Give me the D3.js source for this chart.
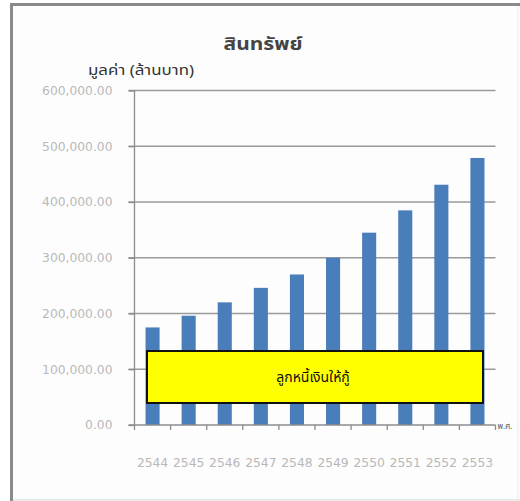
<!DOCTYPE html>
<html>
<head>
<meta charset="utf-8">
<script src="https://cdn.jsdelivr.net/npm/d3@7"></script>
<style>
  html, body { margin: 0; padding: 0; background: #ffffff; }
  svg { display: block; }
</style>
</head>
<body>
<svg id="chart" width="520" height="501"></svg>
<script>
// Assets (million baht) by Buddhist-era year
const years = ["2544", "2545", "2546", "2547", "2548", "2549", "2550", "2551", "2552", "2553"];
const assets = [175000, 196000, 220000, 246000, 270000, 300000, 345000, 385000, 431000, 479000];
const yTicks = [0, 100000, 200000, 300000, 400000, 500000, 600000];

const chartTitle = "สินทรัพย์";
const yTitle = "มูลค่า (ล้านบาท)";
const xUnit = "พ.ศ.";
const boxLabel = "ลูกหนี้เงินให้กู้";

const svg = d3.select("#chart");
const W = 520, H = 501;
const plotLeft = 134.5, plotRight = 495.5, plotTop = 90.5, plotBottom = 425;
const fontLatin = "'DejaVu Sans', Verdana, sans-serif";
const fontThai = "Tahoma, 'Noto Sans Thai', 'Noto Sans', 'DejaVu Sans', sans-serif";

// Frame
svg.append("rect").attr("x", 0).attr("y", 0).attr("width", W).attr("height", H).attr("fill", "#ffffff");
svg.append("rect").attr("x", 13).attr("y", 5).attr("width", W - 14).attr("height", H - 6)
  .attr("fill", "#fdfdfd").attr("stroke", "none");
svg.append("line").attr("x1", 11).attr("x2", W).attr("y1", 4.5).attr("y2", 4.5)
  .attr("stroke", "#8a8a8a").attr("stroke-width", 3);
svg.append("line").attr("x1", 11.5).attr("x2", 11.5).attr("y1", 3).attr("y2", H)
  .attr("stroke", "#8a8a8a").attr("stroke-width", 3);
svg.append("line").attr("x1", 13).attr("x2", W).attr("y1", H - 1).attr("y2", H - 1)
  .attr("stroke", "#e2e2e2").attr("stroke-width", 1.5);
svg.append("line").attr("x1", W - 2).attr("x2", W - 2).attr("y1", 6).attr("y2", H)
  .attr("stroke", "#ececec").attr("stroke-width", 1);

const x = d3.scaleBand().domain(years).range([plotLeft, plotRight]).paddingInner(0.61).paddingOuter(0.305);
const y = d3.scaleLinear().domain([0, 600000]).range([plotBottom, plotTop]);

// Gridlines
svg.append("g").selectAll("line").data(yTicks.filter(d => d > 0)).join("line")
  .attr("x1", plotLeft - 6).attr("x2", plotRight)
  .attr("y1", d => y(d)).attr("y2", d => y(d))
  .attr("stroke", "#9a9a9a").attr("stroke-width", 1.3);

// Bars
svg.append("g").selectAll("rect").data(years).join("rect")
  .attr("x", d => x(d))
  .attr("width", x.bandwidth())
  .attr("y", (d, i) => y(assets[i]))
  .attr("height", (d, i) => plotBottom - y(assets[i]))
  .attr("fill", "#4a7ebb");

// Y axis
const yAxis = d3.axisLeft(y).tickValues(yTicks).tickSize(6).tickPadding(16)
  .tickFormat(d => d3.format(",.2f")(d));
const gy = svg.append("g").attr("transform", `translate(${plotLeft},0)`).call(yAxis);
gy.select(".domain").attr("stroke", "#8c8c8c").attr("stroke-width", 1.3).attr("d", `M0,${plotTop}V${plotBottom}`);
gy.selectAll(".tick line").attr("stroke", "#8c8c8c").attr("stroke-width", 1.3);
gy.selectAll(".tick text").attr("fill", "#b8b8b8").attr("font-size", 12.3).attr("font-family", fontLatin);

// X axis with ticks on category boundaries
const step = x.step();
const gx = svg.append("g").attr("transform", `translate(0,${plotBottom})`);
gx.append("line").attr("x1", plotLeft - 6).attr("x2", plotRight).attr("y1", 0).attr("y2", 0)
  .attr("stroke", "#8c8c8c").attr("stroke-width", 1.3);
gx.selectAll("line.tk").data(d3.range(years.length + 1)).join("line").attr("class", "tk")
  .attr("x1", i => plotLeft + i * step).attr("x2", i => plotLeft + i * step)
  .attr("y1", 0).attr("y2", 5)
  .attr("stroke", "#8c8c8c").attr("stroke-width", 1.3);
gx.selectAll("text.lbl").data(years).join("text").attr("class", "lbl")
  .attr("x", d => x(d) + x.bandwidth() / 2).attr("y", 42)
  .attr("text-anchor", "middle").attr("fill", "#b8b8b8")
  .attr("font-size", 12.3).attr("font-family", fontLatin)
  .text(d => d);
gx.append("text").attr("x", plotRight + 2).attr("y", 4)
  .attr("fill", "#555").attr("font-size", 8).attr("font-family", fontThai)
  .text(xUnit);

// Titles
svg.append("text").attr("x", 263).attr("y", 50).attr("text-anchor", "middle")
  .attr("font-size", 18).attr("font-weight", "bold").attr("fill", "#444")
  .attr("font-family", fontThai)
  .attr("textLength", 79).attr("lengthAdjust", "spacingAndGlyphs")
  .text(chartTitle);
svg.append("text").attr("x", 88).attr("y", 75)
  .attr("font-size", 14).attr("fill", "#333")
  .attr("font-family", fontThai)
  .attr("textLength", 106).attr("lengthAdjust", "spacingAndGlyphs")
  .text(yTitle);

// Highlight box
const bx0 = x(years[0]) + 1.5, bx1 = x(years[years.length - 1]) + x.bandwidth() - 1.5;
svg.append("rect").attr("x", bx0).attr("y", 351).attr("width", bx1 - bx0).attr("height", 52)
  .attr("fill", "#ffff00").attr("stroke", "#111").attr("stroke-width", 2);
svg.append("text").attr("x", 313).attr("y", 382).attr("text-anchor", "middle")
  .attr("font-size", 14).attr("fill", "#111").attr("font-family", fontThai)
  .text(boxLabel);
</script>
</body>
</html>
